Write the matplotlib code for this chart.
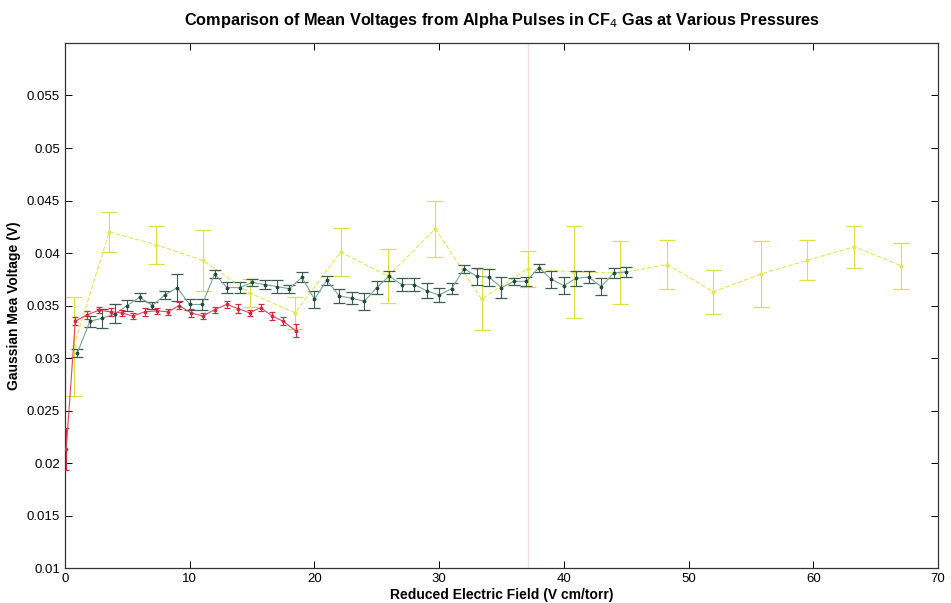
import matplotlib

matplotlib.use("Agg")
import matplotlib.pyplot as plt

plt.rcParams["font.family"] = ["Liberation Sans", "DejaVu Sans"]

# red series (lowest pressure, stops near 18.5 V cm/torr)
red_x = [0.1, 0.83, 1.74, 2.73, 3.66, 4.55, 5.43, 6.4, 7.35, 8.27, 9.15,
         10.1, 11.04, 12.0, 12.96, 13.9, 14.8, 15.7, 16.6, 17.5, 18.5]
red_y = [0.0213, 0.0335, 0.0341, 0.03455, 0.0344, 0.0343, 0.0340, 0.0344, 0.0345, 0.0344, 0.0350,
         0.0343, 0.0340, 0.0346, 0.0351, 0.0347, 0.0343, 0.0348, 0.0340, 0.0335, 0.0326]
red_err = [0.0020, 0.0004, 0.0004, 0.0003, 0.0004, 0.0003, 0.0003, 0.0004, 0.0003, 0.0003, 0.0003,
           0.0004, 0.0003, 0.0003, 0.0003, 0.0004, 0.0003, 0.0003, 0.0004, 0.0004, 0.0006]

# dark green series
green_x = list(range(1, 46))
green_y = [0.0305, 0.0335, 0.0338, 0.0342, 0.0350, 0.0358, 0.0350, 0.0360, 0.0367, 0.0351,
           0.0351, 0.0380, 0.0367, 0.0367, 0.0372, 0.0370, 0.0368, 0.0366, 0.0377, 0.0356,
           0.0374, 0.0359, 0.0357, 0.0354, 0.0367, 0.0378, 0.0370, 0.0370, 0.0364, 0.0360,
           0.0366, 0.0385, 0.0378, 0.0377, 0.0367, 0.0373, 0.0373, 0.0386, 0.0375, 0.0369,
           0.0376, 0.0377, 0.0368, 0.0381, 0.0382]
green_err = [0.0004, 0.0005, 0.0009, 0.0009, 0.0005, 0.0004, 0.0003, 0.0004, 0.0013, 0.0005,
             0.0005, 0.0004, 0.0005, 0.0005, 0.0003, 0.0004, 0.0006, 0.0004, 0.0005, 0.0008,
             0.0004, 0.0007, 0.0006, 0.0008, 0.0006, 0.0005, 0.0006, 0.0006, 0.0007, 0.0007,
             0.0005, 0.0004, 0.0008, 0.0008, 0.0010, 0.0003, 0.0004, 0.0004, 0.0008, 0.0008,
             0.0007, 0.0006, 0.0008, 0.0005, 0.0005]

# yellow series (widest field range)
yellow_x = [0.7, 3.55, 7.3, 11.05, 14.8, 18.45, 22.1, 25.9, 29.7, 33.4,
            37.1, 40.8, 44.5, 48.3, 52.0, 55.8, 59.5, 63.3, 67.0]
yellow_y = [0.0311, 0.0420, 0.0408, 0.0393, 0.0362, 0.0343, 0.0401, 0.0378, 0.0423, 0.0356,
            0.0385, 0.0382, 0.0381, 0.0389, 0.0363, 0.0380, 0.0393, 0.0406, 0.0388]
yellow_err = [0.0047, 0.0019, 0.0018, 0.0029, 0.0013, 0.0015, 0.0023, 0.0026, 0.0027, 0.0029,
              0.0017, 0.0044, 0.0030, 0.0023, 0.0021, 0.0031, 0.0019, 0.0020, 0.0022]

x_ticks = [0, 10, 20, 30, 40, 50, 60, 70]
y_ticks = [0.01, 0.015, 0.02, 0.025, 0.03, 0.035, 0.04, 0.045, 0.05, 0.055]
y_tick_labels = ["0.01", "0.015", "0.02", "0.025", "0.03", "0.035", "0.04", "0.045", "0.05", "0.055"]

fig = plt.figure(figsize=(9.51, 6.03), dpi=100)
ax = fig.add_axes([0.0683, 0.058, 0.918, 0.8707])

ax.errorbar(yellow_x, yellow_y, yerr=yellow_err, color="#e2e94e", ecolor="#dbe33c",
            linestyle=(0, (4, 2)), linewidth=0.8, marker=".", markersize=4,
            elinewidth=0.8, capsize=6, capthick=0.9, zorder=2)
ax.errorbar(green_x, green_y, yerr=green_err, color="#7aa496", ecolor="#3a5c51",
            mfc="#24493c", mec="#24493c", linestyle="-", linewidth=0.8, marker=".",
            markersize=3.5, elinewidth=0.8, capsize=4, capthick=0.9, zorder=3)
ax.errorbar(red_x, red_y, yerr=red_err, color="#e2465c", ecolor="#d8283f",
            mfc="#d8283f", mec="#d8283f", linestyle="-", linewidth=0.8, marker=".",
            markersize=3.5, elinewidth=0.8, capsize=2.5, capthick=0.9, zorder=4)

# faint vertical streak from the scan
ax.axvline(37.1, color="#f0dfe4", linewidth=1.0, zorder=1)

ax.set_xlim(0, 70)
ax.set_ylim(0.01, 0.06)
ax.set_xticks(x_ticks)
ax.set_yticks(y_ticks)
ax.set_yticklabels(y_tick_labels)
ax.tick_params(direction="in", top=True, right=True, labelsize=9.5, length=5, width=0.7)
for spine in ax.spines.values():
    spine.set_linewidth(0.9)
    spine.set_color("#333333")

ax.set_title("Comparison of Mean Voltages from Alpha Pulses in CF$_4$ Gas at Various Pressures",
             fontsize=11.7, fontweight="bold", pad=13)
ax.set_xlabel("Reduced Electric Field (V cm/torr)", fontsize=10, fontweight="bold", labelpad=2)
ax.set_ylabel("Gaussian Mea Voltage (V)", fontsize=10, fontweight="bold", labelpad=4)

fig.savefig("out.png", dpi=100)
